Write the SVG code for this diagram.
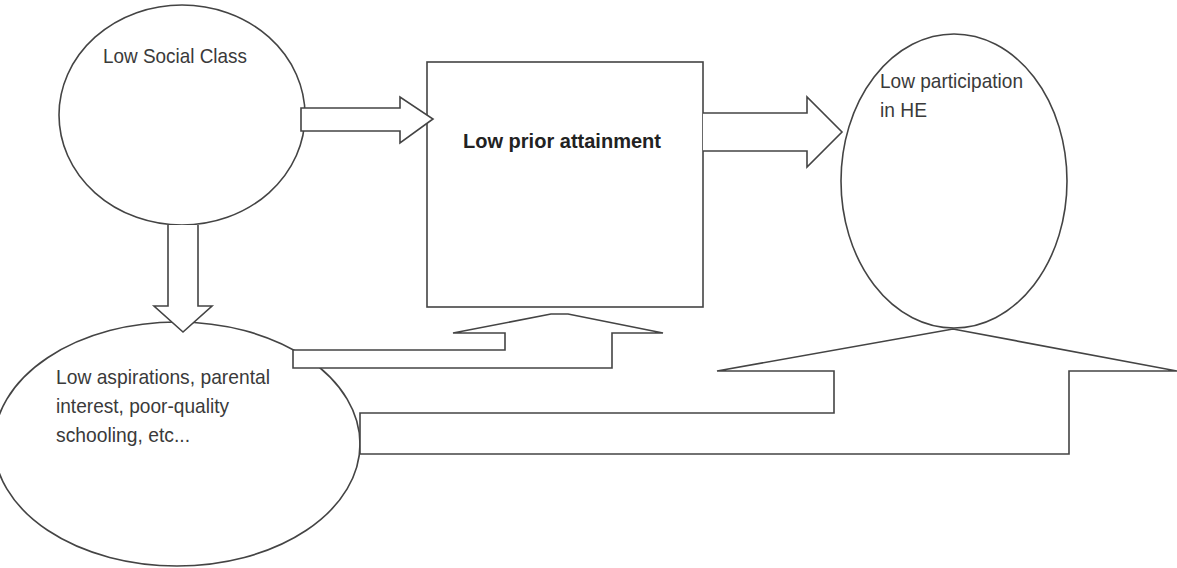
<svg xmlns="http://www.w3.org/2000/svg" width="1177" height="568" viewBox="0 0 1177 568">
<style>
.shape{fill:#fff;stroke:#444;stroke-width:1.6;stroke-linejoin:miter}
.lbl{font-family:"Liberation Sans",Arial,sans-serif;font-size:21px;fill:#3a3a3a}
.bold{font-weight:bold;fill:#222}
</style>
<rect width="1177" height="568" fill="#fff"/>
<g id="node-social-class">
<ellipse class="shape" cx="182" cy="115" rx="123" ry="110"/>
<text class="lbl" x="103" y="63" textLength="144" lengthAdjust="spacingAndGlyphs">Low Social Class</text>
</g>
<g id="node-prior-attainment">
<rect class="shape" x="427" y="62" width="276" height="245"/>
<text class="lbl bold" x="463" y="148" textLength="198" lengthAdjust="spacingAndGlyphs">Low prior attainment</text>
</g>
<g id="node-participation">
<ellipse class="shape" cx="954" cy="181" rx="113" ry="147"/>
<text class="lbl" x="880" y="88" textLength="143" lengthAdjust="spacingAndGlyphs">Low participation</text>
<text class="lbl" x="880" y="117" textLength="47" lengthAdjust="spacingAndGlyphs">in HE</text>
</g>
<g id="node-aspirations">
<ellipse class="shape" cx="177" cy="444" rx="183" ry="122"/>
<text class="lbl" x="56" y="384" textLength="214" lengthAdjust="spacingAndGlyphs">Low aspirations, parental</text>
<text class="lbl" x="56" y="413" textLength="173" lengthAdjust="spacingAndGlyphs">interest, poor-quality</text>
<text class="lbl" x="56" y="442" textLength="134" lengthAdjust="spacingAndGlyphs">schooling, etc...</text>
</g>
<g id="connectors">
<path class="shape" d="M301,108 L400,108 L400,97 L433,119 L400,143 L400,131 L301,131 Z"/>
<path class="shape" d="M703,113 L807,113 L807,97 L842,132 L807,167 L807,151 L703,151"/>
<path class="shape" d="M168,225 L168,306 L154,306 L183,332 L212,306 L198,306 L198,225"/>
<path class="shape" d="M453,333 L505,333 L505,350 L293,350 L293,368 L612,368 L612,333 L663,333 L568,314 L551,314 Z"/>
<path class="shape" d="M717,371 L834,371 L834,413 L360,413 L360,454 L1069,454 L1069,371 L1177,371 L953,329 Z"/>
</g>
</svg>
